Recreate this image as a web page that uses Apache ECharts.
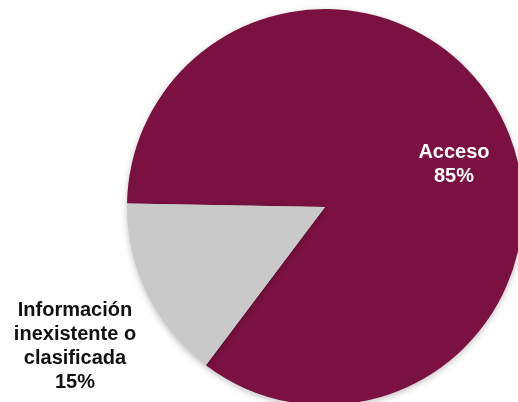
<!DOCTYPE html>
<html><head><meta charset="utf-8">
<script src="https://cdn.jsdelivr.net/npm/echarts@6/dist/echarts.min.js"></script>
<style>html,body{margin:0;padding:0;background:#fff}#c{width:518px;height:402px}</style>
</head><body><div id="c"></div>
<script>
const categories = ['Acceso', 'Información\ninexistente o\nclasificada'];
const values = [85, 15];
const colors = ['#7B1141', '#C9C9C9'];
const labelColors = ['#FFFFFF', '#111111'];
const labelPos = [[454, 164], [75, 346]];

const chart = echarts.init(document.getElementById('c'), null, {renderer: 'canvas'});
chart.setOption({
  animation: false,
  series: [{
    type: 'pie',
    center: [325, 207],
    radius: 198,
    startAngle: 179,
    clockwise: true,
    avoidLabelOverlap: false,
    labelLine: {show: false},
    itemStyle: {borderWidth: 0, shadowBlur: 6, shadowColor: 'rgba(0,0,0,0.25)', shadowOffsetY: 2},
    emphasis: {disabled: true},
    label: {
      show: true,
      position: 'inside',
      formatter: p => p.name + '\n' + p.value + '%',
      fontFamily: 'Liberation Sans, Arial, sans-serif',
      fontWeight: 'bold',
      fontSize: 20,
      lineHeight: 24,
      align: 'center'
    },
    labelLayout: function (params) {
      const i = params.dataIndex;
      return {x: labelPos[i][0], y: labelPos[i][1], align: 'center', verticalAlign: 'middle'};
    },
    data: categories.map((c, i) => ({
      name: c, value: values[i],
      itemStyle: {color: colors[i]},
      label: {color: labelColors[i]}
    }))
  }]
});
</script></body></html>
